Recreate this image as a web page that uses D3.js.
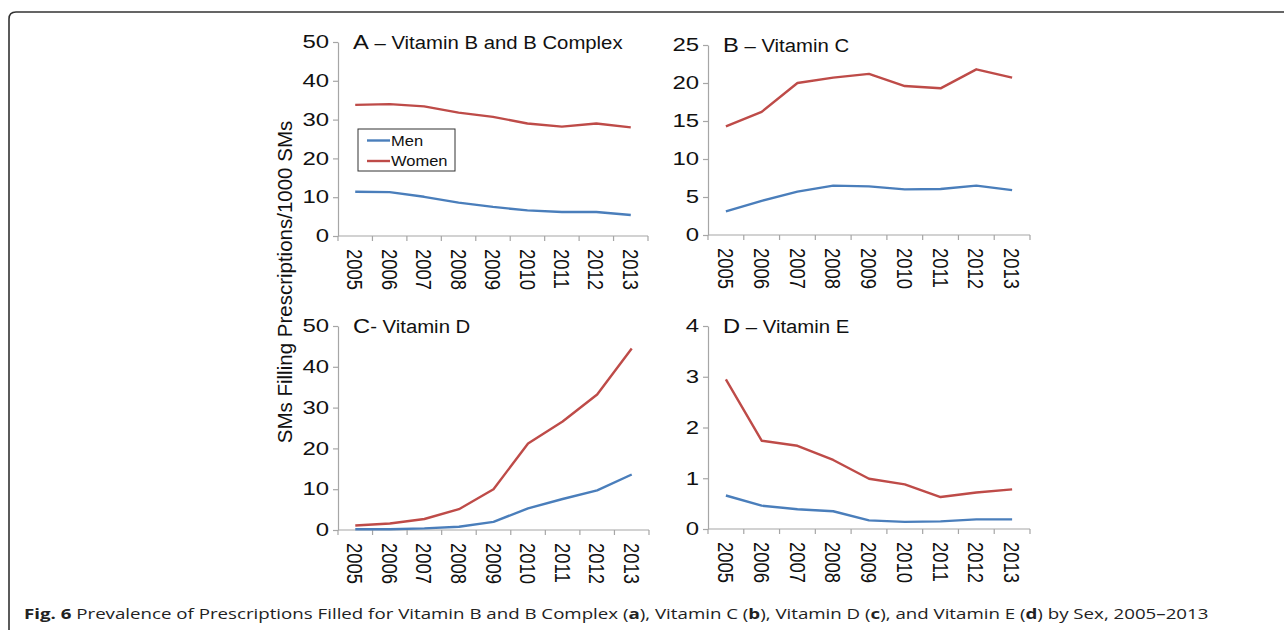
<!DOCTYPE html>
<html>
<head>
<meta charset="utf-8">
<script src="https://cdn.jsdelivr.net/npm/d3@7"></script>
<style>
  body { margin: 0; background: #fff; }
  svg { display: block; }
</style>
</head>
<body>
<script>
const w = 1284; // width
const h = 630; // height

// data
const years = ["2005", "2006", "2007", "2008", "2009", "2010", "2011", "2012", "2013"];
const vitBMen = [11.4, 11.3, 10.1, 8.6, 7.5, 6.6, 6.2, 6.2, 5.4];
const vitBWomen = [33.8, 34.0, 33.4, 31.8, 30.7, 29.0, 28.2, 29.0, 28.0];
const vitCMen = [3.1, 4.5, 5.7, 6.5, 6.4, 6.0, 6.05, 6.5, 5.9];
const vitCWomen = [14.3, 16.2, 20.0, 20.7, 21.2, 19.6, 19.3, 21.8, 20.7];
const vitDMen = [0.2, 0.2, 0.4, 0.8, 2.0, 5.3, 7.6, 9.7, 13.6];
const vitDWomen = [1.1, 1.6, 2.7, 5.1, 10.0, 21.2, 26.6, 33.2, 44.5];
const vitEMen = [0.66, 0.46, 0.39, 0.35, 0.17, 0.14, 0.15, 0.19, 0.19];
const vitEWomen = [2.95, 1.74, 1.64, 1.36, 0.99, 0.88, 0.63, 0.72, 0.78];
const seriesNames = ["Men", "Women"];
const colors = ["#4a7ebb", "#be4b48"];

const panels = [
    {letter: "A", title: " \u2013 Vitamin B and B Complex", max: 50, step: 10, men: vitBMen, women: vitBWomen,
        x0: 338, x1: 648, y0: 42, y1: 236},
    {letter: "B", title: " \u2013 Vitamin C", max: 25, step: 5, men: vitCMen, women: vitCWomen,
        x0: 708, x1: 1030, y0: 45, y1: 235},
    {letter: "C", title: "- Vitamin D", max: 50, step: 10, men: vitDMen, women: vitDWomen,
        x0: 338, x1: 649, y0: 326, y1: 530},
    {letter: "D", title: " \u2013 Vitamin E", max: 4, step: 1, men: vitEMen, women: vitEWomen,
        x0: 708, x1: 1030, y0: 326, y1: 529}
];

let svg = d3.select("body")
    .append("svg")
    .attr("width", w)
    .attr("height", h);

// frame with rounded top-left corner
svg.append("path")
    .attr("d", `M9,${h} V19 Q9,12 16,12 H${w}`)
    .attr("fill", "none")
    .attr("stroke", "#333")
    .attr("stroke-width", 1.6);

const font = "'Liberation Sans', Arial, Helvetica, sans-serif";
const axisColor = "#a6a6a6";
// the source picture is stretched sideways, so text gets a horizontal scale
const tickStretch = 1.33;
const yearStretch = 1.22;
const titleStretch = 1.13;

panels.forEach((pn, pi) => {
    let g = svg.append("g");

    let x = d3.scaleBand()
        .domain(years)
        .range([pn.x0, pn.x1]);

    let y = d3.scaleLinear()
        .domain([0, pn.max])
        .range([pn.y1, pn.y0]);

    // y axis
    let axisY = d3.axisLeft(y)
        .tickValues(d3.range(0, pn.max + pn.step / 2, pn.step))
        .tickFormat(d3.format("d"))
        .tickSize(5)
        .tickSizeOuter(0);
    let gY = g.append("g")
        .attr("transform", `translate(${pn.x0},0)`)
        .call(axisY);
    gY.select(".domain").attr("stroke", axisColor).attr("stroke-width", 1.2);
    gY.selectAll(".tick line").attr("stroke", axisColor).attr("stroke-width", 1.2);
    gY.selectAll(".tick text")
        .attr("x", 0)
        .attr("transform", `translate(-9,0) scale(${tickStretch},1)`)
        .attr("font-family", font)
        .attr("font-size", 18)
        .attr("fill", "#111");

    // x axis: line and ticks between categories
    g.append("line")
        .attr("x1", pn.x0).attr("x2", pn.x1)
        .attr("y1", pn.y1).attr("y2", pn.y1)
        .attr("stroke", axisColor).attr("stroke-width", 1.2);
    let bounds = years.map(d => x(d)).concat([pn.x1]);
    g.selectAll(".xtick")
        .data(bounds)
        .enter()
        .append("line")
        .attr("x1", d => d).attr("x2", d => d)
        .attr("y1", pn.y1).attr("y2", pn.y1 + 5)
        .attr("stroke", axisColor).attr("stroke-width", 1.2);
    g.selectAll(".xlab")
        .data(years)
        .enter()
        .append("text")
        .attr("transform", d => `translate(${x(d) + x.bandwidth() / 2},${pn.y1 + 13}) scale(${yearStretch},1) rotate(90)`)
        .attr("dy", "0.35em")
        .attr("text-anchor", "start")
        .attr("font-family", font)
        .attr("font-size", 18.5)
        .attr("fill", "#111")
        .text(d => d);

    // lines
    let line = d3.line()
        .x((d, i) => x(years[i]) + x.bandwidth() / 2)
        .y(d => y(d));
    [pn.men, pn.women].forEach((vals, si) => {
        g.append("path")
            .datum(vals)
            .attr("d", line)
            .attr("fill", "none")
            .attr("stroke", colors[si])
            .attr("stroke-width", 2.4)
            .attr("stroke-linejoin", "round");
    });

    // panel title
    let t = g.append("text")
        .attr("transform", `translate(${pn.x0 + 15},${pn.y0 + 7}) scale(${titleStretch},1)`)
        .attr("font-family", font)
        .attr("font-size", 18)
        .attr("fill", "#111");
    t.append("tspan").attr("font-size", 21).text(pn.letter);
    t.append("tspan").text(pn.title);
});

// legend (inside panel A)
let lg = svg.append("g").attr("transform", "translate(358,129)");
lg.append("rect")
    .attr("width", 97).attr("height", 42)
    .attr("fill", "#fff")
    .attr("stroke", "#333").attr("stroke-width", 1);
seriesNames.forEach((s, i) => {
    lg.append("line")
        .attr("x1", 9).attr("x2", 32)
        .attr("y1", 11.5 + i * 20.5).attr("y2", 11.5 + i * 20.5)
        .attr("stroke", colors[i]).attr("stroke-width", 2.4);
    lg.append("text")
        .attr("transform", `translate(33,${11.5 + i * 20.5}) scale(1.1,1)`)
        .attr("dy", "0.35em")
        .attr("font-family", font)
        .attr("font-size", 15)
        .attr("fill", "#111")
        .text(s);
});

// y axis title
svg.append("text")
    .attr("transform", "translate(292,282) rotate(-90)")
    .attr("text-anchor", "middle")
    .attr("font-family", font)
    .attr("font-size", 20.5)
    .attr("fill", "#111")
    .text("SMs Filling Prescriptions/1000 SMs");

// caption
let cap = svg.append("text")
    .attr("transform", "translate(24,619) scale(1.29,1)")
    .attr("font-family", "'Open Sans', sans-serif")
    .attr("font-size", 14.5)
    .attr("fill", "#222");
const capParts = [
    ["Fig. 6", true], [" Prevalence of Prescriptions Filled for Vitamin B and B Complex (", false], ["a", true],
    ["), Vitamin C (", false], ["b", true], ["), Vitamin D (", false], ["c", true],
    ["), and Vitamin E (", false], ["d", true], [") by Sex, 2005\u20132013", false]
];
capParts.forEach(([txt, bold]) => {
    cap.append("tspan")
        .attr("font-weight", bold ? "bold" : "normal")
        .text(txt);
});
</script>
</body>
</html>
